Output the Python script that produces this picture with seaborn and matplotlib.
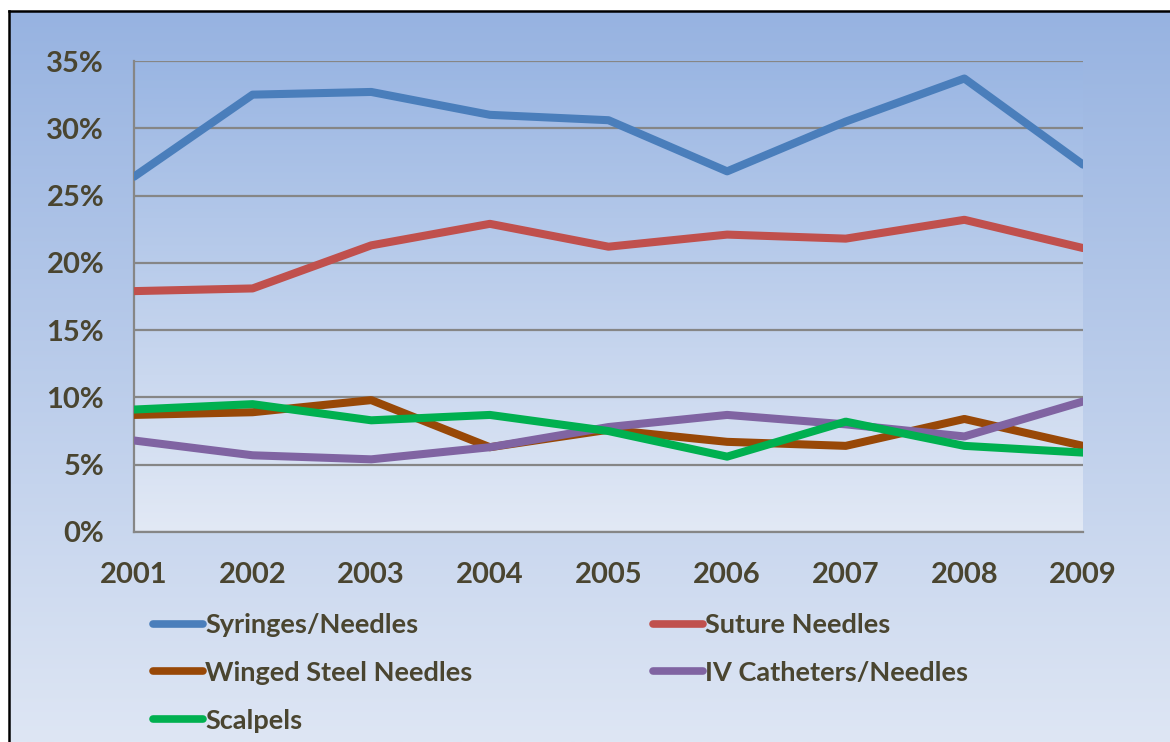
import numpy as np
import pandas as pd
import matplotlib
matplotlib.use("Agg")
import matplotlib.pyplot as plt
import seaborn as sns
from matplotlib.ticker import FuncFormatter
from matplotlib.colors import LinearSegmentedColormap

# ---- data (percent) ----
years = [2001, 2002, 2003, 2004, 2005, 2006, 2007, 2008, 2009]
syringes = [26.4, 32.5, 32.7, 31.0, 30.6, 26.8, 30.5, 33.7, 27.3]
suture = [17.9, 18.1, 21.3, 22.9, 21.2, 22.1, 21.8, 23.2, 21.1]
winged = [8.7, 8.9, 9.8, 6.3, 7.6, 6.7, 6.4, 8.4, 6.4]
iv_cath = [6.8, 5.7, 5.4, 6.3, 7.8, 8.7, 8.0, 7.1, 9.7]
scalpels = [9.1, 9.5, 8.3, 8.7, 7.5, 5.6, 8.2, 6.4, 5.9]
series_names = ["Syringes/Needles", "Suture Needles", "Winged Steel Needles",
                "IV Catheters/Needles", "Scalpels"]
y_ticks = [0, 5, 10, 15, 20, 25, 30, 35]

colors = ["#4A7EBB", "#C0504D", "#984807", "#8064A2", "#00B050"]

df = pd.DataFrame({
    "Year": years * 5,
    "Value": syringes + suture + winged + iv_cath + scalpels,
    "Series": sum([[n] * len(years) for n in series_names], []),
})

sns.set_theme(style="white")
plt.rcParams["font.family"] = ["Lato", "DejaVu Sans"]
plt.rcParams["font.weight"] = "bold"
text_color = "#4A4530"
grid_color = "#868686"

W, H = 1170, 742
fig = plt.figure(figsize=(W / 100, H / 100), dpi=100)
fig.patch.set_facecolor("white")

# background panel with gradient and black border (left/top)
bg = fig.add_axes([9 / W, 0, 1 - 9 / W, 1 - 11 / H], zorder=-10)
cmap_bg = LinearSegmentedColormap.from_list("bg", ["#97B3E1", "#DEE6F4"])
bg.imshow(np.linspace(0, 1, 256).reshape(-1, 1), cmap=cmap_bg, aspect="auto",
          extent=[0, 1, 0, 1], origin="upper")
bg.set_xlim(0, 1)
bg.set_ylim(0, 1)
bg.set_xticks([])
bg.set_yticks([])
for s in ["right", "bottom"]:
    bg.spines[s].set_visible(False)
for s in ["left", "top"]:
    bg.spines[s].set_color("black")
    bg.spines[s].set_linewidth(1.8)

left, right = 134 / W, 1083 / W
top, bottom = 1 - 61 / H, 1 - 532 / H
ax = fig.add_axes([left, bottom, right - left, top - bottom])
ax.set_facecolor("none")

cmap_ax = LinearSegmentedColormap.from_list("ax", ["#9AB6E3", "#E2E9F5"])
ax.imshow(np.linspace(0, 1, 256).reshape(-1, 1), cmap=cmap_ax, aspect="auto",
          extent=[years[0], years[-1], 0, y_ticks[-1]], origin="upper", zorder=0)

sns.lineplot(data=df, x="Year", y="Value", hue="Series", hue_order=series_names,
             palette=colors, linewidth=5.8, ax=ax, sort=False, zorder=3)
for ln in ax.get_lines():
    ln.set_solid_joinstyle("round")

handles, labels = ax.get_legend_handles_labels()
if ax.get_legend() is not None:
    ax.get_legend().remove()

ax.set_xlim(years[0], years[-1])
ax.set_ylim(0, y_ticks[-1])
ax.set_xticks(years)
ax.set_yticks(y_ticks)
ax.yaxis.set_major_formatter(FuncFormatter(lambda v, p: f"{int(v)}%"))
ax.set_xlabel("")
ax.set_ylabel("")
ax.yaxis.grid(True, color=grid_color, linewidth=1.6, zorder=1)
ax.xaxis.grid(False)
ax.set_axisbelow(True)
for s in ["top", "right"]:
    ax.spines[s].set_visible(False)
for s in ["left", "bottom"]:
    ax.spines[s].set_color(grid_color)
    ax.spines[s].set_linewidth(1.6)
ax.tick_params(axis="both", direction="out", length=7.5, width=1.4,
               color=grid_color, labelsize=21, labelcolor=text_color, pad=14)
for t in ax.get_xticklabels() + ax.get_yticklabels():
    t.set_fontweight("bold")

# legend: two column groups
hmap = dict(zip(labels, handles))
for h in handles:
    h.set_linewidth(5.5)
    h.set_solid_capstyle("round")

common = dict(frameon=False, handlelength=1.85, handletextpad=0.08,
              labelspacing=0.88, borderaxespad=0, borderpad=0,
              prop={"weight": "bold", "size": 19.5})
col1 = ["Syringes/Needles", "Winged Steel Needles", "Scalpels"]
col2 = ["Suture Needles", "IV Catheters/Needles"]
leg1 = fig.legend([hmap[n] for n in col1], col1, loc="upper left",
                  bbox_to_anchor=(153 / W, 1 - 613 / H), **common)
leg2 = fig.legend([hmap[n] for n in col2], col2, loc="upper left",
                  bbox_to_anchor=(653 / W, 1 - 613 / H), **common)
for lg in (leg1, leg2):
    for t in lg.get_texts():
        t.set_color(text_color)

fig.savefig("out.png", dpi=100, facecolor=fig.get_facecolor())
